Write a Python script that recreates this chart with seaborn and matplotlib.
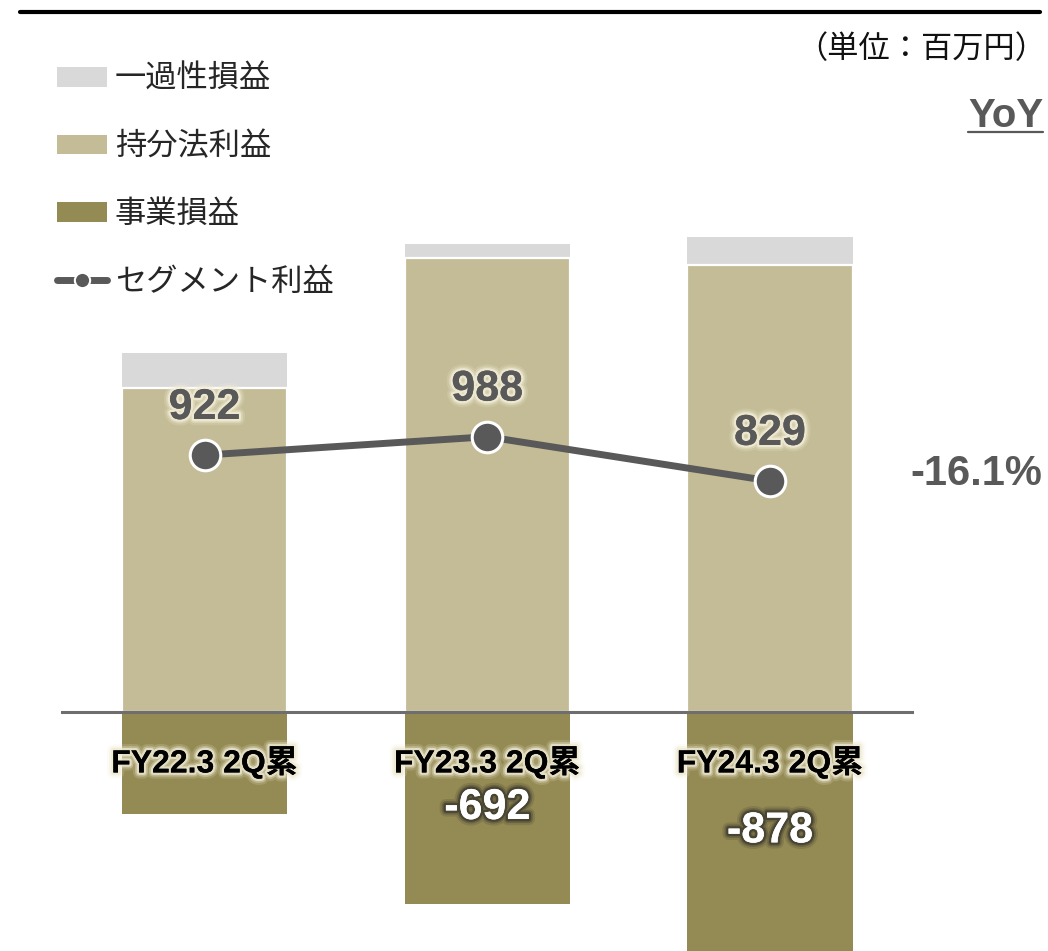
import numpy as np
import pandas as pd
import matplotlib
matplotlib.use("Agg")
import matplotlib.pyplot as plt
import matplotlib.patheffects as pe
from matplotlib.patches import Patch
from matplotlib.lines import Line2D
import seaborn as sns

# ---- data (百万円) ----
categories = ["FY22.3 2Q累", "FY23.3 2Q累", "FY24.3 2Q累"]
one_off = [126, 51, 102]            # 一過性損益
equity_method = [1164, 1629, 1605]  # 持分法利益
business = [-368, -692, -878]       # 事業損益
segment = [922, 988, 829]           # セグメント利益
business_labels = ["", "-692", "-878"]
yoy_text = "-16.1%"

series_names = ["一過性損益", "持分法利益", "事業損益", "セグメント利益"]

C_ONEOFF = "#D9D9D9"
C_EQUITY = "#C4BC96"
C_BUSINESS = "#948A54"
C_LINE = "#595959"

sns.set_style("white")
plt.rcParams["font.family"] = ["Liberation Sans", "Noto Sans CJK JP", "DejaVu Sans"]

df = pd.DataFrame({
    "category": categories,
    "one_off": one_off,
    "equity": equity_method,
    "business": business,
    "segment": segment,
})
df["upper_total"] = df["equity"] + df["one_off"]

W, H = 1048, 951
fig = plt.figure(figsize=(W / 100, H / 100), dpi=100)
ax = fig.add_axes([0, 0, 1, 1])
ax.set_axisbelow(False)

bar_w = 0.5836
# stacked positive part: one-off on top of equity-method profit
sns.barplot(data=df, x="category", y="upper_total", color=C_ONEOFF, saturation=1,
            width=bar_w, errorbar=None, linewidth=0, ax=ax, zorder=1)
sns.barplot(data=df, x="category", y="equity", color=C_EQUITY, saturation=1,
            width=bar_w, errorbar=None, edgecolor="white", linewidth=1.6, ax=ax, zorder=1.1)
sns.barplot(data=df, x="category", y="business", color=C_BUSINESS, saturation=1,
            width=bar_w, errorbar=None, linewidth=0, ax=ax, zorder=1.2)

# segment profit line
xpos = np.arange(len(categories))
sns.lineplot(x=xpos, y=df["segment"], color=C_LINE, linewidth=5, marker="o",
             markersize=22, markeredgecolor="white", markeredgewidth=2.2,
             solid_capstyle="round", ax=ax, zorder=5, legend=False)

ax.set_xlim(-0.7233, 2.9832)
ax.set_ylim(-859.9, 2557.3)

# zero line doubles as the category axis
for s in ["top", "right", "left"]:
    ax.spines[s].set_visible(False)
ax.spines["bottom"].set_position(("data", 0))
ax.spines["bottom"].set_bounds(-0.504, 2.502)
ax.spines["bottom"].set_color("#6E6E6E")
ax.spines["bottom"].set_linewidth(2.2)
ax.spines["bottom"].set_zorder(3)
ax.xaxis.set_zorder(4)
ax.set_yticks([])
ax.set_xlabel("")
ax.set_ylabel("")
ax.tick_params(axis="x", length=0, pad=25, labelsize=23, labelcolor="black")


def glow(color, strong=1.0):
    return [
        pe.withStroke(linewidth=9, foreground=color, alpha=0.18 * strong),
        pe.withStroke(linewidth=6, foreground=color, alpha=0.35 * strong),
        pe.withStroke(linewidth=3.5, foreground=color, alpha=0.75 * strong),
        pe.Normal(),
    ]


for t in ax.get_xticklabels():
    t.set_fontweight("bold")
    t.set_path_effects(glow("#EFEAD2"))

# business-loss labels centred in the negative bars
biz_container = ax.containers[2]
for lbl in ax.bar_label(biz_container, labels=business_labels, label_type="center",
                        fontsize=31, fontweight="bold", color="white"):
    lbl.set_path_effects(glow("#3E3B2E"))
    lbl.set_zorder(6)

# segment profit labels above the markers
for x, v in zip(xpos, df["segment"]):
    t = ax.annotate(f"{v:,}", xy=(x, v), xytext=(0, 26), textcoords="offset points",
                    ha="center", va="baseline", fontsize=31, fontweight="bold",
                    color=C_LINE, zorder=6)
    t.set_path_effects(glow("#F3EED8"))

# YoY change
fig.text(1042 / W, 1 - 485 / H, yoy_text, ha="right", va="baseline",
         fontsize=30, fontweight="bold", color=C_LINE)
yoy = fig.text(1043 / W, 1 - 127 / H, "YoY", ha="right", va="baseline",
               fontsize=29, fontweight="bold", color=C_LINE)
fig.text(1046 / W, 1 - 58 / H, "（単位：百万円）", ha="right", va="baseline",
         fontsize=22.5, color="#111111")

# heading rule
fig.add_artist(Line2D([20 / W, 1040 / W], [1 - 11.5 / H, 1 - 11.5 / H],
                      color="black", linewidth=3, transform=fig.transFigure))

# legend
handles = [
    Patch(facecolor=C_ONEOFF, edgecolor="none"),
    Patch(facecolor=C_EQUITY, edgecolor="none"),
    Patch(facecolor=C_BUSINESS, edgecolor="none"),
    Line2D([], [], color=C_LINE, linewidth=5, marker="o", markersize=11,
           markeredgecolor="white", markeredgewidth=1.5, solid_capstyle="round"),
]
ax.legend(handles, series_names, loc="upper left", bbox_to_anchor=(57 / W, 1 - 65 / H),
          bbox_transform=fig.transFigure, frameon=False, fontsize=22.5,
          handlelength=1.6, handleheight=0.6, handletextpad=0.25,
          labelspacing=1.2, borderpad=0, borderaxespad=0)

# underline under YoY
fig.canvas.draw()
bb = yoy.get_window_extent().transformed(fig.transFigure.inverted())
uy = 1 - 132 / H
fig.add_artist(Line2D([bb.x0, bb.x1], [uy, uy], color=C_LINE, linewidth=1.6,
                      transform=fig.transFigure))

fig.savefig("out.png", dpi=100)
